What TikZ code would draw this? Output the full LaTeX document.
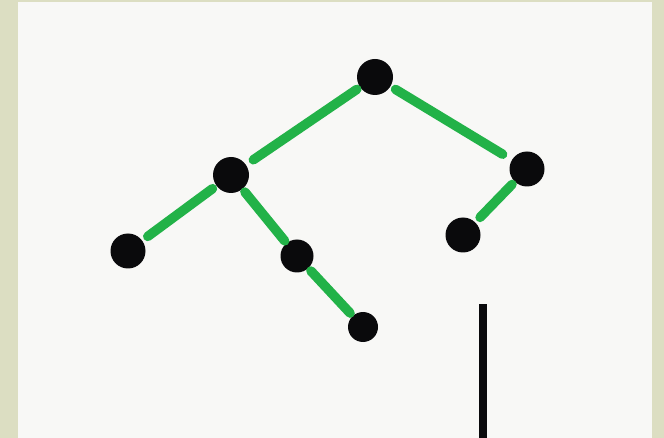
\documentclass[tikz,border=0pt]{standalone}
\definecolor{borderbeige}{RGB}{220,222,194}
\definecolor{paper}{RGB}{248,248,246}
\definecolor{marker}{RGB}{34,178,72}
\definecolor{ink}{RGB}{10,10,12}
\tikzset{
  vert/.style={circle, fill=ink, draw=none, inner sep=0pt, outer sep=0pt},
  edge/.style={draw=marker, line width=9.5pt, line cap=round},
}
\begin{document}
\begin{tikzpicture}[x=1pt,y=-1pt]
\fill[borderbeige] (0,0) rectangle (664,438);
\fill[paper] (18,2) rectangle (652,438);
\useasboundingbox (0,0) rectangle (664,438);
% vertices
\node[vert, minimum width=35pt, minimum height=36pt] (root) at (375,77) {};
\node[vert, minimum size=36pt] (l) at (231,175) {};
\node[vert, minimum width=35pt, minimum height=33pt] (r) at (527,169) {};
\node[vert, minimum width=35pt, minimum height=34pt] (ll) at (128,251) {};
\node[vert, minimum width=33pt, minimum height=31pt] (lr) at (297,256) {};
\node[vert, minimum width=29pt, minimum height=30pt] (lrr) at (363,327) {};
\node[vert, minimum width=35pt, minimum height=34pt] (rl) at (463,235) {};
% edges
\draw[edge, shorten <=4pt, shorten >=9pt] (root) -- (l);
\draw[edge, shorten <=6pt, shorten >=11pt] (root) -- (r);
\draw[edge, shorten <=5pt, shorten >=7pt] (l) -- (ll);
\draw[edge, shorten <=4pt, shorten >=3pt] (l) -- (lr);
\draw[edge, shorten <=4pt, shorten >=4pt] (lr) -- (lrr);
\draw[edge, shorten <=4pt, shorten >=7pt] (r) -- (rl);
% vertical bar
\fill[ink] (479,304) rectangle (487,438);
\end{tikzpicture}
\end{document}
